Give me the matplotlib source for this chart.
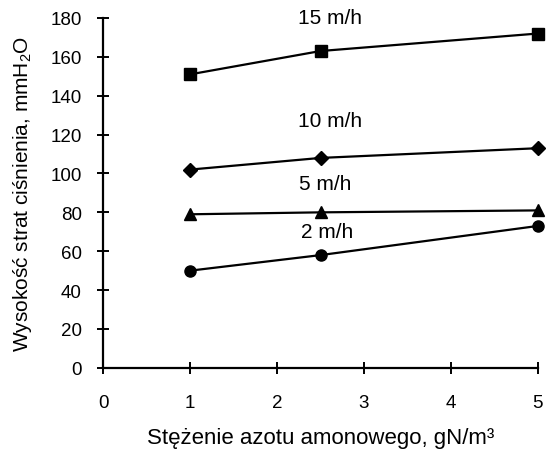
import numpy as np
import matplotlib.pyplot as plt

plt.rcParams['font.family'] = ['Liberation Sans', 'DejaVu Sans']
plt.rcParams['mathtext.fontset'] = 'custom'
plt.rcParams['mathtext.rm'] = 'Liberation Sans'

# stężenie azotu amonowego, gN/m3
stezenie = [1, 2.5, 5]

# wysokość strat ciśnienia dla prędkości filtracji
h_15 = [151, 163, 172]
h_10 = [102, 108, 113]
h_5 = [79, 80, 81]
h_2 = [50, 58, 73]

etykiety = ['15 m/h', '10 m/h', '5 m/h', '2 m/h']
etykiety_x = [2.61, 2.61, 2.55, 2.58]
etykiety_y = [180.5, 127, 95, 70]

fig = plt.figure(figsize=(5.55, 4.52), dpi=100)
ax = fig.add_axes([0.186, 0.184, 0.783, 0.774])

ax.plot(stezenie, h_15, color='black', lw=1.6, marker='s', ms=8, clip_on=False)
ax.plot(stezenie, h_10, color='black', lw=1.6, marker='D', ms=7, clip_on=False)
ax.plot(stezenie, h_5, color='black', lw=1.6, marker='^', ms=8, clip_on=False)
ax.plot(stezenie, h_2, color='black', lw=1.6, marker='o', ms=8, clip_on=False)

for t, x, y in zip(etykiety, etykiety_x, etykiety_y):
    ax.text(x, y, t, ha='center', va='center', fontsize=15)

ax.set_xlim(0, 5)
ax.set_ylim(0, 180)
ax.set_xticks(range(0, 6))
ax.set_yticks(range(0, 181, 20))
ax.spines['top'].set_visible(False)
ax.spines['right'].set_visible(False)
ax.spines['left'].set_linewidth(1.6)
ax.spines['bottom'].set_linewidth(1.6)
ax.tick_params(direction='inout', length=9, width=1.4, labelsize=13.5)
ax.tick_params(axis='x', pad=14)
ax.tick_params(axis='y', pad=11)

ax.set_xlabel('Stężenie azotu amonowego, gN/m³', fontsize=16, labelpad=12)
ax.set_ylabel('Wysokość strat ciśnienia, mmH$_\\mathrm{2}$O', fontsize=15, labelpad=12)

fig.savefig('out.png', dpi=100)
